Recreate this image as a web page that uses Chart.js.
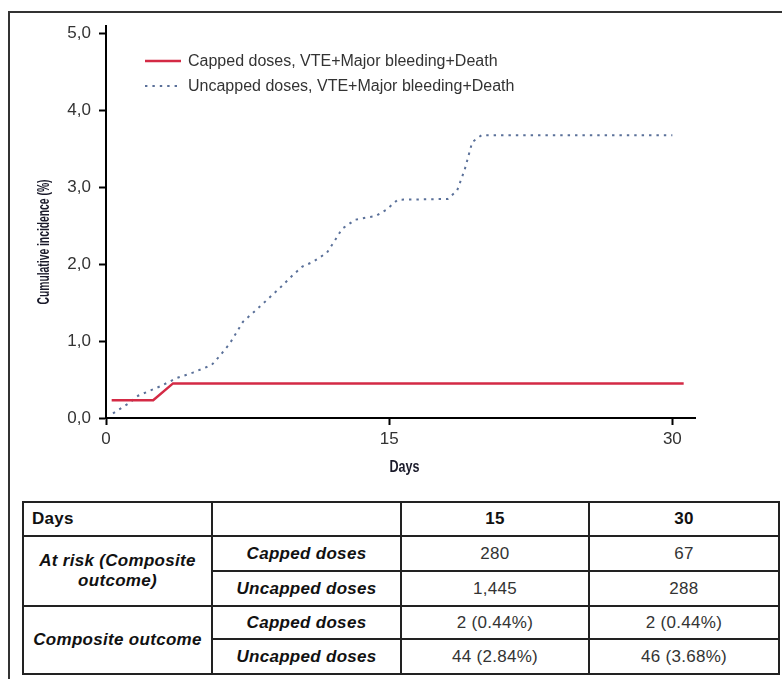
<!DOCTYPE html>
<html>
<head>
<meta charset="utf-8">
<script src="https://cdn.jsdelivr.net/npm/chart.js@4.4.1/dist/chart.umd.min.js"></script>
<style>
  html, body { margin: 0; padding: 0; background: #fff; }
  body { width: 782px; height: 679px; position: relative; overflow: hidden; font-family: "Liberation Sans", Arial, sans-serif; }
  #frame { position: absolute; left: 8px; top: 11px; right: -20px; bottom: -20px; border: 2px solid #333; }
  #chartBox { position: absolute; left: 0; top: 0; width: 782px; height: 490px; }
  table { position: absolute; left: 22px; top: 501px; width: 756px; border-collapse: collapse; table-layout: fixed; border: 2px solid #222; }
  td { border: 2px solid #222; padding: 0 8px; font-size: 17px; color: #333; text-align: center; letter-spacing: 0.3px; }
  td.hd { font-weight: bold; color: #111; }
  td.lab { font-weight: bold; font-style: italic; color: #111; }
</style>
</head>
<body>
<div id="frame"></div>
<div id="chartBox"><canvas id="kmChart"></canvas></div>
<table id="riskTable"></table>
<script>
// days and cumulative incidence (%)
const cappedDays = [0.3, 2.5, 3.55, 30.6];
const cappedVals = [0.23, 0.23, 0.45, 0.45];
const uncappedDays = [0.37, 1.2, 1.7, 2.85, 3.75, 4.6, 5.6, 6.0, 6.56, 7.25, 8.15, 9.2, 9.9, 10.4,
  10.95, 11.7, 12.1, 12.5, 13.2, 14.3, 14.85, 15.45, 18.1, 18.6, 19.0, 19.4, 19.9, 30.0];
const uncappedVals = [0.06, 0.19, 0.29, 0.41, 0.52, 0.59, 0.69, 0.80, 0.97, 1.25, 1.45, 1.69, 1.86, 1.97,
  2.03, 2.15, 2.30, 2.46, 2.58, 2.63, 2.71, 2.84, 2.85, 2.96, 3.23, 3.59, 3.68, 3.68];
const seriesLabels = ["Capped doses, VTE+Major bleeding+Death", "Uncapped doses, VTE+Major bleeding+Death"];
const xTicks = [0, 15, 30];
const yTicks = [0, 1, 2, 3, 4, 5];
const xTitle = "Days";
const yTitle = "Cumulative incidence (%)";

// table below the chart
const tableDays = ["15", "30"];
const atRiskCapped = ["280", "67"];
const atRiskUncapped = ["1,445", "288"];
const outcomeCapped = ["2 (0.44%)", "2 (0.44%)"];
const outcomeUncapped = ["44 (2.84%)", "46 (3.68%)"];

function toPoints(xs, ys) {
  return xs.map(function (x, i) { return { x: x, y: ys[i] }; });
}

// simple legend drawn inside the plot area, top left
const insideLegend = {
  id: "insideLegend",
  afterDraw(chart) {
    const ctx = chart.ctx;
    const a = chart.chartArea;
    ctx.save();
    chart.data.datasets.forEach(function (ds, i) {
      const y = a.top + 35 + i * 25;
      const x0 = a.left + 39;
      ctx.beginPath();
      ctx.strokeStyle = ds.borderColor;
      ctx.lineWidth = ds.borderWidth;
      ctx.setLineDash(ds.borderDash || []);
      ctx.moveTo(x0, y);
      ctx.lineTo(x0 + 36, y);
      ctx.stroke();
      ctx.setLineDash([]);
      ctx.fillStyle = "#333";
      ctx.font = "16px 'Liberation Sans', Arial, sans-serif";
      ctx.textBaseline = "middle";
      ctx.fillText(ds.label, x0 + 43, y + 1);
    });
    ctx.restore();
  },
};

// axis titles in a narrow bold face (squeezed along the text)
function narrowText(ctx, text, x, y, angle, width) {
  ctx.save();
  ctx.translate(x, y);
  ctx.rotate(angle);
  ctx.font = "bold 16px 'Liberation Sans', Arial, sans-serif";
  const w = ctx.measureText(text).width;
  ctx.scale(width / w, 1);
  ctx.fillStyle = "#1a1a2a";
  ctx.textAlign = "center";
  ctx.textBaseline = "middle";
  ctx.fillText(text, 0, 0);
  ctx.restore();
}
const axisTitles = {
  id: "axisTitles",
  afterDraw(chart) {
    const xs = chart.scales.x;
    const ys = chart.scales.y;
    narrowText(chart.ctx, xTitle, (xs.left + xs.right) / 2 + 4, xs.bottom - 22, 0, 30);
    narrowText(chart.ctx, yTitle, ys.left + 45, (ys.top + ys.bottom) / 2 + 20, -Math.PI / 2, 125);
  },
};

const ctx = document.getElementById("kmChart").getContext("2d");
const kmChart = new Chart(ctx, {
  type: "scatter",
  data: {
    datasets: [
      {
        label: seriesLabels[0],
        data: toPoints(cappedDays, cappedVals),
        showLine: true,
        borderColor: "#d42a45",
        backgroundColor: "#d42a45",
        borderWidth: 2.5,
        pointRadius: 0,
        tension: 0,
      },
      {
        label: seriesLabels[1],
        data: toPoints(uncappedDays, uncappedVals),
        showLine: true,
        borderColor: "#5a7099",
        backgroundColor: "#5a7099",
        borderWidth: 2,
        borderDash: [2.4, 5],
        pointRadius: 0,
        tension: 0,
      },
    ],
  },
  options: {
    responsive: true,
    maintainAspectRatio: false,
    animation: false,
    layout: { padding: { left: 0, right: 87, top: 26, bottom: 0 } },
    scales: {
      x: {
        type: "linear",
        min: 0,
        max: 31.2,
        afterBuildTicks: function (scale) { scale.ticks = xTicks.map(function (v) { return { value: v }; }); },
        afterFit: function (scale) { scale.height = 72; },
        ticks: {
          color: "#333",
          padding: 4,
          font: { family: "'Liberation Sans', Arial, sans-serif", size: 17 },
          maxRotation: 0,
        },
        grid: { drawOnChartArea: false, drawTicks: true, tickLength: 7, tickColor: "#000", tickWidth: 2 },
        border: { display: true, color: "#000", width: 2 },
      },
      y: {
        min: 0,
        max: 5.1,
        afterBuildTicks: function (scale) { scale.ticks = yTicks.map(function (v) { return { value: v }; }); },
        afterFit: function (scale) { scale.width = 106; },
        ticks: {
          color: "#333",
          padding: 8,
          font: { family: "'Liberation Sans', Arial, sans-serif", size: 17 },
          callback: function (v) { return v.toFixed(1).replace(".", ","); },
        },
        grid: { drawOnChartArea: false, drawTicks: true, tickLength: 7, tickColor: "#000", tickWidth: 2 },
        border: { display: true, color: "#000", width: 2 },
      },
    },
    plugins: {
      legend: { display: false },
      tooltip: { enabled: false },
    },
  },
  plugins: [insideLegend, axisTitles],
});

// build the at-risk table
const rows = [
  '<col style="width:189px"><col style="width:189px"><col style="width:188px"><col style="width:190px">',
  '<tr style="height:34px"><td class="hd" style="text-align:left">Days</td><td></td><td class="hd">' + tableDays[0] + '</td><td class="hd">' + tableDays[1] + '</td></tr>',
  '<tr style="height:35px"><td class="lab" rowspan="2">At risk (Composite<br>outcome)</td><td class="lab">Capped doses</td><td>' + atRiskCapped[0] + '</td><td>' + atRiskCapped[1] + '</td></tr>',
  '<tr style="height:35px"><td class="lab">Uncapped doses</td><td>' + atRiskUncapped[0] + '</td><td>' + atRiskUncapped[1] + '</td></tr>',
  '<tr style="height:33px"><td class="lab" rowspan="2">Composite outcome</td><td class="lab">Capped doses</td><td>' + outcomeCapped[0] + '</td><td>' + outcomeCapped[1] + '</td></tr>',
  '<tr style="height:35px"><td class="lab">Uncapped doses</td><td>' + outcomeUncapped[0] + '</td><td>' + outcomeUncapped[1] + '</td></tr>',
];
document.getElementById("riskTable").innerHTML = rows.join("");
</script>
</body>
</html>
